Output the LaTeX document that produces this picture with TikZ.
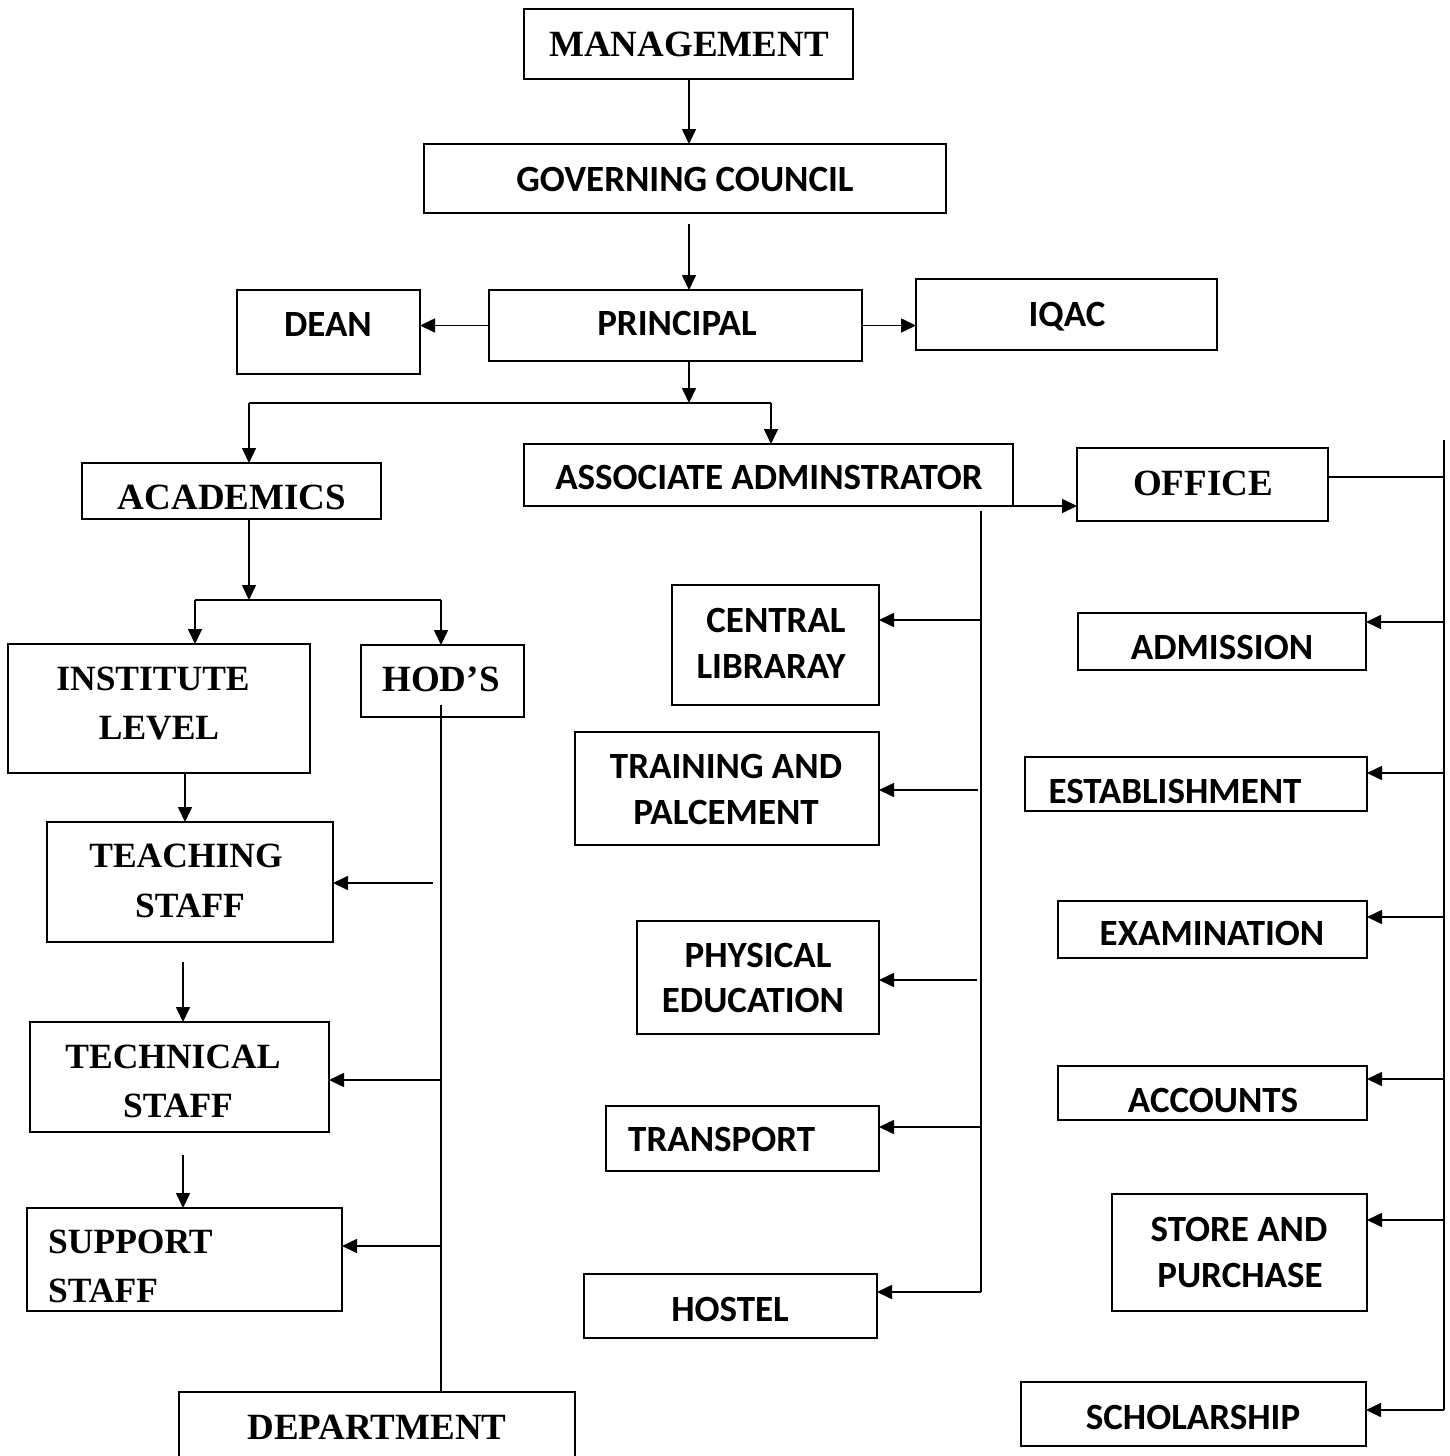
\documentclass[tikz,border=0pt]{standalone}
\usepackage{fontspec}
\setmainfont{Liberation Serif}
\newfontfamily\calfont{Carlito}
\usetikzlibrary{arrows.meta}
\newcommand\bx[5]{\node[box,minimum width={#4-#2},minimum height={#5-#3}] (#1) at ({(#2+#4)/2},{(#3+#5)/2}) {};}
\newcommand\tx[5]{\node[#4] (#1) at (#2,#3) {#5};}
\begin{document}
\begin{tikzpicture}[x=1pt,y=-1pt,
 box/.style={draw,line width=1.7pt,inner sep=0pt,outer sep=0pt},
 conn/.style={line width=1.6pt},
 arr/.style={conn,-{Triangle[length=15pt,width=14pt]}},
 sans/.style={font=\calfont\bfseries\fontsize{37}{46}\selectfont,anchor=base,inner sep=0pt},
 serif/.style={font=\bfseries\fontsize{37}{49}\selectfont,anchor=base,inner sep=0pt},
 serifs/.style={font=\bfseries\fontsize{35.5}{49}\selectfont,anchor=base,inner sep=0pt},
 sansl/.style={sans,anchor=base west},
 serifl/.style={serifs,anchor=base west}]
\useasboundingbox (0,0) rectangle (1450,1456);
% boxes
\bx{mg}{524}{9}{853}{79}
\bx{gc}{424}{144}{946}{213}
\bx{pr}{489}{290}{862}{361}
\bx{dean}{237}{290}{420}{374}
\bx{iq}{916}{279}{1217}{350}
\bx{ac}{82}{463}{381}{519}
\bx{aa}{524}{444}{1013}{506}
\bx{of}{1077}{448}{1328}{521}
\bx{il}{8}{644}{310}{773}
\bx{hod}{361}{645}{524}{717}
\bx{ts}{47}{822}{333}{942}
\bx{tc}{30}{1022}{329}{1132}
\bx{ss}{27}{1208}{342}{1311}
\bx{dep}{179}{1392}{575}{1480}
\bx{cl}{672}{585}{879}{705}
\bx{tp}{575}{732}{879}{845}
\bx{pe}{637}{921}{879}{1034}
\bx{tr}{606}{1106}{879}{1171}
\bx{ho}{584}{1274}{877}{1338}
\bx{ad}{1078}{613}{1366}{670}
\bx{es}{1025}{757}{1367}{811}
\bx{ex}{1058}{901}{1367}{958}
\bx{acc}{1058}{1066}{1367}{1120}
\bx{sp}{1112}{1194}{1367}{1311}
\bx{sc}{1021}{1382}{1366}{1446}
% texts
\tx{t1}{689}{56}{serif}{MANAGEMENT}
\tx{t2}{685}{191}{sans}{GOVERNING COUNCIL}
\tx{t3}{328}{336}{sans}{DEAN}
\tx{t4}{677}{335}{sans}{PRINCIPAL}
\tx{t5}{1067}{326}{sans}{IQAC}
\tx{t6}{232}{509}{serif}{ACADEMICS}
\tx{t7}{769}{489}{sans}{ASSOCIATE ADMINSTRATOR}
\tx{t8}{1203}{495}{serif}{OFFICE}
\tx{t9}{153}{690}{serifs}{INSTITUTE}
\tx{t10}{159}{739}{serifs}{LEVEL}
\tx{t11}{441}{691}{serif}{HOD’S}
\tx{t12}{186}{867}{serifs}{TEACHING}
\tx{t13}{190}{917}{serifs}{STAFF}
\tx{t14}{173}{1068}{serifs}{TECHNICAL}
\tx{t15}{178}{1117}{serifs}{STAFF}
\tx{t16}{48}{1253}{serifl}{SUPPORT}
\tx{t17}{48}{1302}{serifl}{STAFF}
\tx{t18}{377}{1439}{serif}{DEPARTMENT}
\tx{t19}{776}{632}{sans}{CENTRAL}
\tx{t20}{771}{678}{sans}{LIBRARAY}
\tx{t21}{726}{778}{sans}{TRAINING AND}
\tx{t22}{726}{824}{sans}{PALCEMENT}
\tx{t23}{758}{967}{sans}{PHYSICAL}
\tx{t24}{753}{1012}{sans}{EDUCATION}
\tx{t25}{628}{1151}{sansl}{TRANSPORT}
\tx{t26}{730}{1321}{sans}{HOSTEL}
\tx{t27}{1222}{659}{sans}{ADMISSION}
\tx{t28}{1175}{803}{sans}{ESTABLISHMENT}
\tx{t29}{1212}{945}{sans}{EXAMINATION}
\tx{t30}{1213}{1112}{sans}{ACCOUNTS}
\tx{t31}{1239}{1241}{sans}{STORE AND}
\tx{t32}{1240}{1287}{sans}{PURCHASE}
\tx{t33}{1193}{1429}{sans}{SCHOLARSHIP}
% connector coordinates
\coordinate (g1) at (689,224);
\coordinate (j1) at (689,403);
\coordinate (j1l) at (249,403);
\coordinate (j1r) at (771,403);
\coordinate (j2) at (249,600);
\coordinate (j2l) at (195,600);
\coordinate (j2r) at (441,600);
\coordinate (h0) at (441,705);
\coordinate (h1) at (433,883);
\coordinate (h2) at (441,1080);
\coordinate (h3) at (441,1246);
\coordinate (k1) at (185,773);
\coordinate (k2) at (183,962);
\coordinate (k3) at (183,1155);
\coordinate (a0) at (981,511);
\coordinate (a1) at (981,1292);
\coordinate (b1) at (981,620);
\coordinate (b2) at (978,790);
\coordinate (b3) at (977,980);
\coordinate (b4) at (981,1127);
\coordinate (b5) at (981,1292);
\coordinate (o0) at (1444,440);
\coordinate (o1) at (1444,477);
\coordinate (o9) at (1444,1410);
\coordinate (c1) at (1444,622);
\coordinate (c2) at (1444,773);
\coordinate (c3) at (1444,917);
\coordinate (c4) at (1444,1079);
\coordinate (c5) at (1444,1220);
\coordinate (c6) at (1444,1410);
% connectors
\draw[arr] (mg.south -| g1) -- (gc.north -| g1);
\draw[arr] (g1) -- (pr.north -| g1);
\draw[arr] (pr.west) -- (dean.east |- pr.west);
\draw[arr] (pr.east) -- (iq.west |- pr.east);
\draw[arr] (pr.south -| j1) -- (j1);
\draw[conn] (j1l) -- (j1r);
\draw[arr] (j1l) -- (ac.north -| j1l);
\draw[arr] (j1r) -- (aa.north -| j1r);
\draw[arr] (ac.south -| j2) -- (j2);
\draw[conn] (j2l) -- (j2r);
\draw[arr] (j2l) -- (il.north -| j2l);
\draw[arr] (j2r) -- (hod.north -| j2r);
\draw[conn] (h0) -- (dep.north -| h0);
\draw[arr] (h1) -- (ts.east |- h1);
\draw[arr] (h2) -- (tc.east |- h2);
\draw[arr] (h3) -- (ss.east |- h3);
\draw[arr] (k1) -- (ts.north -| k1);
\draw[arr] (k2) -- (tc.north -| k2);
\draw[arr] (k3) -- (ss.north -| k3);
\draw[arr] (aa.south east) -- (of.west |- aa.south east);
\draw[conn] (a0) -- (a1);
\draw[arr] (b1) -- (cl.east |- b1);
\draw[arr] (b2) -- (tp.east |- b2);
\draw[arr] (b3) -- (pe.east |- b3);
\draw[arr] (b4) -- (tr.east |- b4);
\draw[arr] (b5) -- (ho.east |- b5);
\draw[conn] (o1 -| of.east) -- (o1);
\draw[conn] (o0) -- (o9);
\draw[arr] (c1) -- (ad.east |- c1);
\draw[arr] (c2) -- (es.east |- c2);
\draw[arr] (c3) -- (ex.east |- c3);
\draw[arr] (c4) -- (acc.east |- c4);
\draw[arr] (c5) -- (sp.east |- c5);
\draw[arr] (c6) -- (sc.east |- c6);
\end{tikzpicture}
\end{document}
